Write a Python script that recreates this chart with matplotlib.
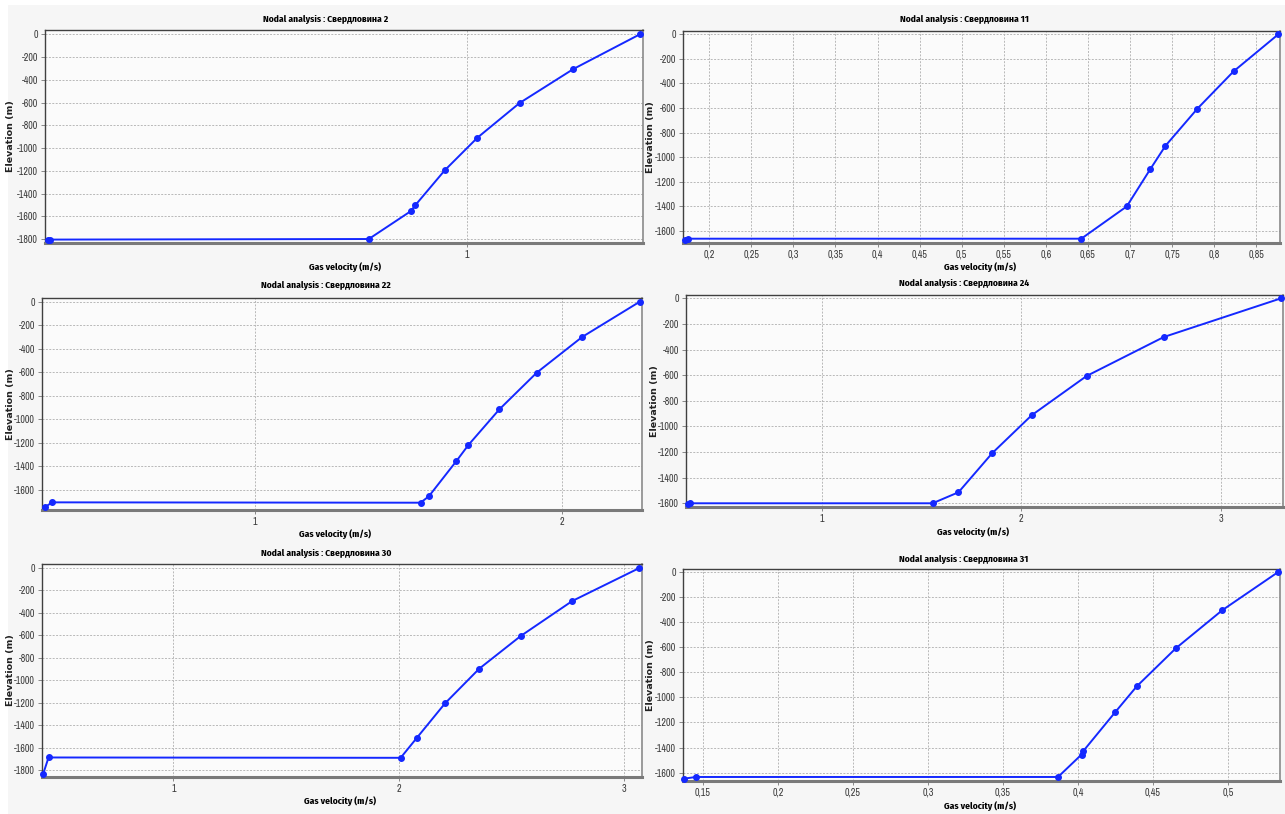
import numpy as np
import matplotlib
matplotlib.use("Agg")
import matplotlib.pyplot as plt
from matplotlib import font_manager
from matplotlib.ft2font import FT2Font
from matplotlib.patches import Rectangle
from matplotlib.ticker import FuncFormatter

# velocity (m/s) vs elevation (m) for each well
wells = ["2", "11", "22", "24", "30", "31"]

v_2 = [0.206, 0.210, 0.814, 0.894, 0.902, 0.958, 1.020, 1.100, 1.202, 1.328]
z_2 = [-1810, -1805, -1800, -1554, -1504, -1196, -909, -604, -305, 0]

v_11 = [0.171, 0.175, 0.642, 0.696, 0.724, 0.742, 0.780, 0.823, 0.876]
z_11 = [-1673, -1665, -1665, -1402, -1098, -908, -605, -301, 0]

v_22 = [0.315, 0.339, 1.540, 1.567, 1.657, 1.696, 1.797, 1.919, 2.067, 2.255]
z_22 = [-1747, -1705, -1708, -1654, -1354, -1218, -915, -603, -300, 0]

v_24 = [0.330, 0.340, 1.555, 1.685, 1.854, 2.052, 2.328, 2.715, 3.303]
z_24 = [-1607, -1600, -1600, -1514, -1209, -913, -606, -302, 0]

v_30 = [0.421, 0.445, 2.009, 2.081, 2.206, 2.358, 2.542, 2.771, 3.069]
z_30 = [-1836, -1688, -1691, -1513, -1206, -897, -606, -294, 0]

v_31 = [0.1376, 0.1452, 0.3867, 0.4024, 0.4035, 0.4247, 0.4392, 0.4653, 0.4963, 0.5335]
z_31 = [-1648, -1635, -1635, -1456, -1429, -1120, -912, -608, -304, 0]

# x tick values per panel
xticks_2 = [1]
xticks_11 = [0.2, 0.25, 0.3, 0.35, 0.4, 0.45, 0.5, 0.55, 0.6, 0.65, 0.7, 0.75, 0.8, 0.85]
xticks_22 = [1, 2]
xticks_24 = [1, 2, 3]
xticks_30 = [1, 2, 3]
xticks_31 = [0.15, 0.2, 0.25, 0.3, 0.35, 0.4, 0.45, 0.5]

series = [
    (v_2, z_2, xticks_2, (0.2, 1.334), (-1835, 38), -1800),
    (v_11, z_11, xticks_11, (0.169, 0.878), (-1700, 27), -1600),
    (v_22, z_22, xticks_22, (0.306, 2.262), (-1770, 31), -1600),
    (v_24, z_24, xticks_24, (0.318, 3.313), (-1629, 26), -1600),
    (v_30, z_30, xticks_30, (0.416, 3.081), (-1862, 36), -1800),
    (v_31, z_31, xticks_31, (0.1367, 0.5347), (-1667, 24), -1600),
]

W, H = 1285, 814
# axes boxes in pixels: left, right, top, bottom
boxes = [
    (45, 643, 30, 243),
    (683, 1280, 31, 243),
    (42, 642, 298, 510),
    (686, 1283, 295, 507),
    (42, 642, 564, 777),
    (683, 1280, 569, 781),
]
title_pos = [(326, 19), (965, 19), (326, 286), (964, 284), (326, 553), (964, 560)]
xlabel_pos = [(345, 267), (980, 267), (335, 534), (973, 532), (340, 801), (980, 806)]
ylabel_x = [11, 651, 11, 654, 11, 651]


def has_cyrillic(path):
    try:
        return ord("С") in FT2Font(path).get_charmap()
    except Exception:
        return False


# narrow faces: a regular one for ticks, a bold one with Cyrillic for titles
narrow_reg, narrow_bold = [], []
for f in font_manager.fontManager.ttflist:
    if "Narrow" not in f.name and "Condensed" not in f.name:
        continue
    w = f.weight if isinstance(f.weight, int) else (700 if "bold" in str(f.weight) else 400)
    if f.style != "normal":
        continue
    if w >= 600 and has_cyrillic(f.fname):
        narrow_bold.append(f.name)
    elif w < 600:
        narrow_reg.append(f.name)
narrow = sorted(set(narrow_reg))[:1] + ["Liberation Sans", "DejaVu Sans"]
narrow_b = sorted(set(narrow_bold))[:1] + ["Liberation Sans", "DejaVu Sans"]
title_size = 6.9 if narrow_bold else 6.3
plt.rcParams["axes.unicode_minus"] = False

line_blue = "#1428ff"

fig = plt.figure(figsize=(W / 100, H / 100), dpi=100, facecolor="white")

# light grey chart backgrounds
for (x0, y0, x1, y1) in [(8, 5, 645, 275), (645, 5, 1285, 275),
                         (8, 275, 645, 540), (645, 275, 1285, 540),
                         (8, 540, 645, 814), (645, 540, 1285, 814)]:
    fig.patches.append(Rectangle((x0 / W, 1 - y1 / H), (x1 - x0) / W, (y1 - y0) / H,
                                 transform=fig.transFigure, facecolor="#f6f6f6",
                                 edgecolor="none", zorder=-10))

comma = FuncFormatter(lambda v, p: ("%g" % v).replace(".", ","))

for i, (v, z, xt, xl, yl, ymin_tick) in enumerate(series):
    l, r, t, b = boxes[i]
    ax = fig.add_axes([l / W, 1 - b / H, (r - l) / W, (b - t) / H])
    ax.set_facecolor("#fbfbfb")
    ax.plot(v, z, color=line_blue, lw=1.4, marker="o", ms=4, clip_on=False, zorder=3)
    ax.set_xlim(*xl)
    ax.set_ylim(*yl)
    ax.set_xticks(xt)
    ax.set_yticks(np.arange(ymin_tick, 1, 200))
    ax.xaxis.set_major_formatter(comma)
    ax.grid(True, color="#b8b8b8", lw=0.7, ls=(0, (2, 1.5)))
    ax.set_axisbelow(True)
    for lab in ax.get_xticklabels() + ax.get_yticklabels():
        lab.set_family(narrow)
        lab.set_fontsize(7.2)
        lab.set_color("#3a3a3a")
    ax.tick_params(length=3, width=0.6, color="#777777", pad=2)
    ax.spines["top"].set_color("#404040")
    ax.spines["left"].set_color("#404040")
    ax.spines["top"].set_linewidth(1.0)
    ax.spines["left"].set_linewidth(1.0)
    ax.spines["bottom"].set_color("#7a7a7a")
    ax.spines["bottom"].set_linewidth(2.2)
    ax.spines["right"].set_color("#8a8a8a")
    ax.spines["right"].set_linewidth(1.2)

    tx, ty = title_pos[i]
    fig.text(tx / W, 1 - ty / H, "Nodal analysis : Свердловина " + wells[i],
             ha="center", va="center", fontsize=title_size, fontweight="bold", family=narrow_b)
    xx, xy = xlabel_pos[i]
    fig.text(xx / W, 1 - xy / H, "Gas velocity (m/s)", ha="center", va="center",
             fontsize=title_size, fontweight="bold", family=narrow_b)
    fig.text(ylabel_x[i] / W, 1 - ((t + b) / 2) / H, "Elevation (m)", rotation=90,
             ha="center", va="center", fontsize=6.8, fontweight="bold",
             family="DejaVu Sans", color="#222222")

fig.savefig("out.png", dpi=100, facecolor=fig.get_facecolor())
